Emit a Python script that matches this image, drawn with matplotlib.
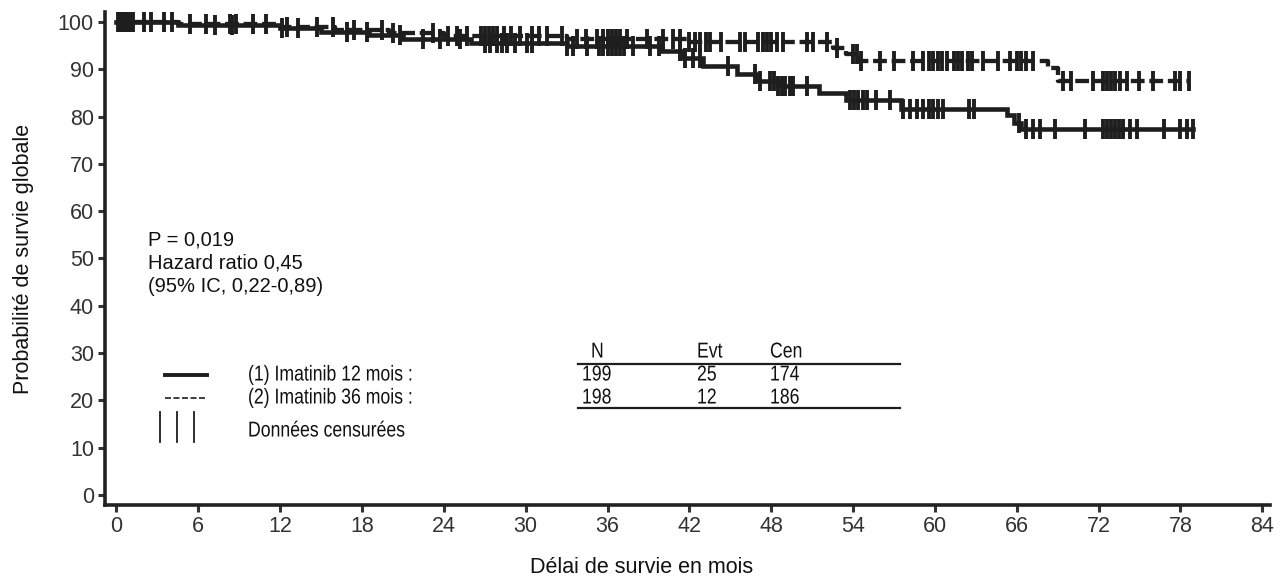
import numpy as np
import matplotlib
matplotlib.use("Agg")
import matplotlib.pyplot as plt
from matplotlib import patheffects
from matplotlib.transforms import Affine2D

plt.rcParams['font.family'] = ['Liberation Sans', 'DejaVu Sans']

# step curves (time in months, survival in %)
t_arm1 = [0, 4.5, 12, 15, 18.5, 21, 26, 33, 40, 41.5, 43, 45.5, 47, 48.5, 51.5, 53.5, 57.5, 65.3, 65.8, 66.3]
s_arm1 = [100, 99.4, 98.7, 97.8, 97.2, 96.4, 95.5, 95.0, 93.8, 92.3, 90.7, 89.0, 87.6, 86.4, 85.0, 83.4, 81.5, 80.3, 78.7, 77.3]
end_arm1 = 78.9

t_arm2 = [0, 4.5, 12, 16, 20, 24, 33, 42, 52.5, 53.5, 54.5, 68.3, 69]
s_arm2 = [100, 99.5, 99.0, 98.2, 97.6, 97.0, 96.4, 95.7, 94.5, 93.2, 91.8, 90.2, 87.6]
end_arm2 = 78.6

# censored times
cens_arm1 = [0.2, 0.5, 0.8, 1.2, 2.5, 4.1, 7.2, 8.5, 12.1, 13.3, 16.9, 18.4, 20.8, 22.5, 23.7,
             25.2, 27.0, 27.4, 27.9, 28.3, 28.6, 29.2, 30.1, 30.5, 33.0, 33.5, 34.5, 35.4, 35.7,
             36.0, 36.3, 36.6, 36.9, 37.2, 37.9, 39.1, 39.8, 41.3, 41.7, 42.3, 42.8, 44.8, 46.8,
             47.2, 47.9, 48.2, 48.5, 48.8, 49.0, 49.4, 49.6, 50.6, 53.8, 54.1, 54.4, 54.7, 55.0,
             55.7, 56.7, 57.7, 58.2, 58.7, 59.1, 59.6, 59.9, 60.2, 60.6, 62.5, 62.9, 66.2, 66.7,
             67.2, 67.7, 68.8, 71.0, 72.3, 72.6, 72.9, 73.2, 73.5, 73.8, 74.3, 74.8, 76.8, 78.0,
             78.5, 78.9]
cens_arm2 = [0.1, 0.4, 0.7, 1.0, 2.0, 3.5, 5.4, 6.6, 8.3, 8.8, 10.0, 11.0, 12.5, 14.7, 15.9,
             17.4, 19.5, 20.3, 23.2, 24.3, 25.0, 25.7, 26.7, 27.0, 27.3, 27.6, 27.9, 28.4, 28.9,
             29.6, 30.5, 31.0, 31.6, 32.7, 33.8, 34.4, 35.2, 35.7, 36.0, 36.3, 36.6, 36.9, 37.4,
             38.9, 40.1, 40.8, 41.3, 42.0, 42.4, 42.8, 43.2, 43.5, 44.3, 45.7, 46.1, 47.0, 47.4,
             47.7, 48.0, 48.4, 48.9, 50.6, 51.1, 52.1, 52.8, 54.0, 54.3, 54.6, 56.0, 57.0, 58.4,
             59.1, 59.6, 59.9, 60.2, 60.5, 60.9, 61.4, 61.7, 62.0, 62.4, 62.7, 63.5, 64.6, 65.5,
             66.0, 66.3, 66.7, 67.2, 69.4, 70.0, 71.6, 72.3, 72.6, 72.9, 73.2, 73.6, 74.1, 75.0,
             76.0, 77.6, 78.0, 78.6]

x_ticks = list(range(0, 85, 6))
y_ticks = list(range(0, 101, 10))

table_header = ['N', 'Evt', 'Cen']
table_rows = [['199', '25', '174'], ['198', '12', '186']]
arm_labels = ['(1) Imatinib 12 mois :', '(2) Imatinib 36 mois :']

ink = '#1e1e1e'
txt = '#111111'


class Condense(patheffects.AbstractPathEffect):
    # squeeze glyphs horizontally (the legend block uses a narrow face)
    def __init__(self, sx):
        super().__init__()
        self.sx = sx

    def draw_path(self, renderer, gc, tpath, affine, rgbFace=None):
        renderer.draw_path(gc, tpath, Affine2D().scale(self.sx, 1) + affine, rgbFace)


narrow = [Condense(0.82)]


def surv_at(times, t_ev, s_ev):
    idx = np.searchsorted(t_ev, times, side='right') - 1
    return np.array(s_ev)[idx]


fig = plt.figure(figsize=(12.83, 5.87), dpi=100)
ax = fig.add_axes([105 / 1283, 82 / 587, 1165 / 1283, 493 / 587])

# the two curves
ax.step(t_arm1 + [end_arm1], s_arm1 + [s_arm1[-1]], where='post', color=ink, lw=3.3,
        solid_joinstyle='miter')
ax.step(t_arm2 + [end_arm2], s_arm2 + [s_arm2[-1]], where='post', color=ink, lw=3.1,
        linestyle=(0, (3.2, 1.1)))

# censor ticks
ax.plot(cens_arm1, surv_at(cens_arm1, t_arm1, s_arm1), ls='none', marker='|',
        ms=14, mew=2.8, color=ink)
ax.plot(cens_arm2, surv_at(cens_arm2, t_arm2, s_arm2), ls='none', marker='|',
        ms=14, mew=2.8, color=ink)

ax.set_xlim(-0.84, 84.57)
ax.set_ylim(-2.1, 102.1)
ax.set_xticks(x_ticks)
ax.set_yticks(y_ticks)
ax.tick_params(labelsize=15.5, colors='#333333', width=2.2, length=5, pad=3)
ax.tick_params(axis='x', pad=3)
for side in ['top', 'right']:
    ax.spines[side].set_visible(False)
for side in ['left', 'bottom']:
    ax.spines[side].set_linewidth(2.6)
    ax.spines[side].set_color('#222222')

ax.set_ylabel('Probabilité de survie globale', fontsize=15.5, color=txt)
ax.yaxis.set_label_coords(-0.061, 0.5)
ax.set_xlabel('Délai de survie en mois', fontsize=15.5, color=txt)
ax.xaxis.set_label_coords((642 - 105) / 1165, -0.105)

# statistics text
tr = ax.transAxes
ax.text(0.037, (505 - 231) / 493, 'P = 0,019\nHazard ratio 0,45\n(95% IC, 0,22-0,89)',
        transform=tr, fontsize=14.5, va='top', ha='left', linespacing=1.25, color=txt)

# legend symbols
ax.plot([0.0515, 0.0876], [(505 - 375) / 493] * 2, transform=tr, color=ink, lw=2.8,
        clip_on=False)
ax.plot([0.0515, 0.0876], [(505 - 398) / 493] * 2, transform=tr, color=ink, lw=1.2,
        linestyle=(0, (3.6, 1.5)), clip_on=False)
for xp in [160, 177, 194]:
    ax.plot([(xp - 105) / 1165] * 2, [(505 - 442) / 493, (505 - 412) / 493], transform=tr,
            color=ink, lw=1.3, clip_on=False)

row_y = [375, 398]
for lab, yy in zip(arm_labels, row_y):
    ax.text((248 - 105) / 1165, (505 - yy) / 493, lab, transform=tr, fontsize=15.5,
            va='center', ha='left', color=txt, path_effects=narrow)
ax.text((248 - 105) / 1165, (505 - 431) / 493, 'Données censurées', transform=tr,
        fontsize=15.5, va='center', ha='left', color=txt, path_effects=narrow)

# little table
col_x = [582, 697, 770]
head_x = [591, 697, 770]
for hx, h in zip(head_x, table_header):
    ax.text((hx - 105) / 1165, (505 - 352) / 493, h, transform=tr, fontsize=15.5,
            va='center', ha='left', color=txt, path_effects=narrow)
for row, yy in zip(table_rows, row_y):
    for hx, v in zip(col_x, row):
        ax.text((hx - 105) / 1165, (505 - yy) / 493, v, transform=tr, fontsize=15.5,
                va='center', ha='left', color=txt, path_effects=narrow)
for yy in [364, 408]:
    ax.plot([(578 - 105) / 1165, (900 - 105) / 1165], [(505 - yy) / 493] * 2, transform=tr,
            color=ink, lw=1.6)

fig.savefig('out.png', dpi=100)
